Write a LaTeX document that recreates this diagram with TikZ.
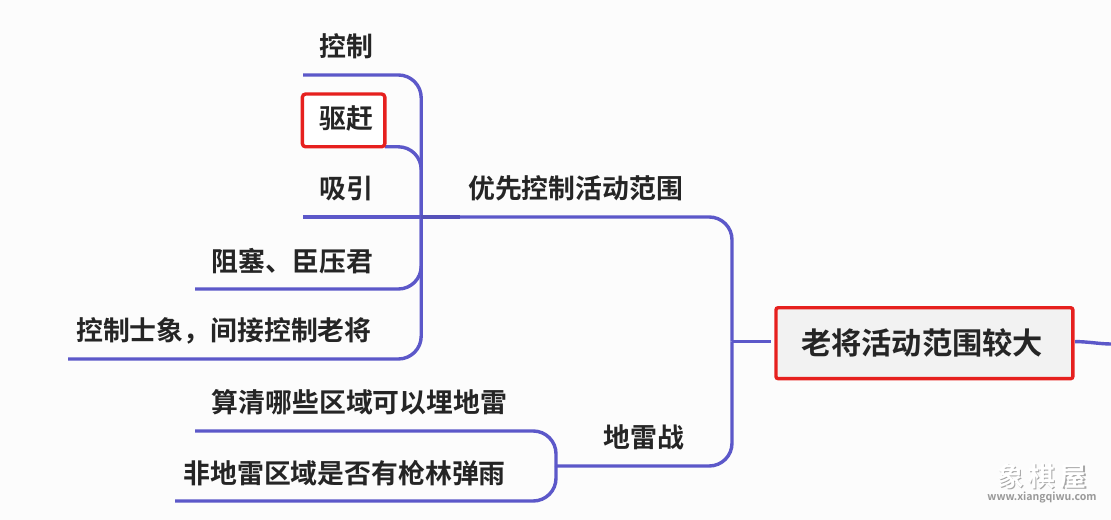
\documentclass[tikz,border=0pt]{standalone}
\usepackage{fontspec}
\setmainfont{Noto Sans CJK SC}[BoldFont={* Bold}]
\usepackage{xcolor}
\usetikzlibrary{backgrounds,positioning}
\definecolor{linkblue}{HTML}{5C58C9}
\definecolor{boxred}{HTML}{E6201E}
\definecolor{textdark}{HTML}{252525}
\begin{document}
\begin{tikzpicture}[
topic/.style={anchor=south west,inner ysep=0pt,inner xsep=0.41cm,minimum height=1.4cm,text=textdark,font=\fontsize{19.1pt}{21pt}\bfseries},
marked/.style={draw=boxred,line width=0.085cm,rounded corners=0.08cm,fill=white,outer sep=0pt},
link/.style={draw=linkblue,line width=0.085cm,rounded corners=0.57cm},
stamp/.style={inner sep=0pt,font=\fontsize{19pt}{21pt}\bfseries},
stampurl/.style={inner sep=0pt,font=\fontsize{7.5pt}{9pt}\bfseries},
]
\useasboundingbox (0,0) rectangle (27.775,-13);
\node[topic] (kongzhi) at (7.58,-1.875) {控制};
\node[topic,marked,anchor=north west,minimum height=1.32cm,inner xsep=0.42cm,text width=1.22cm,text height=0.59cm,text depth=0.2cm] (qugan) at (7.56,-2.35) {\mbox{驱赶}};
\node[topic] (xiyin) at (7.58,-5.425) {吸引};
\node[topic] (zuse) at (4.88,-7.225) {阻塞、臣压君};
\node[topic,inner xsep=0.2cm] (kongshi) at (1.7,-8.975) {控制士象，间接控制老将};
\node[topic,inner xsep=0.2cm] (youxian) at (11.5,-5.425) {优先控制活动范围};
\node[topic] (suanqing) at (4.88,-10.775) {算清哪些区域可以埋地雷};
\node[topic,inner xsep=0.2cm] (feidilei) at (4.38,-12.525) {非地雷区域是否有枪林弹雨};
\node[topic,inner xsep=0.2cm] (dileizhan) at (14.88,-11.65) {地雷战};
\node[draw=boxred,line width=0.085cm,rounded corners=0.05cm,fill=black!5,text=textdark,minimum width=7.42cm,minimum height=1.77cm,inner sep=0pt,font=\fontsize{21.5pt}{24pt}\bfseries] (laojiang) at (23.11,-8.58) {\mbox{老将活动范围较大\hspace{0.12cm}}};
\coordinate (spineup) at (10.53,-5.425);
\coordinate (spinedown) at (13.9,-11.65);
\coordinate (trunk) at (18.3,-8.54);
\coordinate (leftstub) at (19.27,-8.54);
\coordinate (rightstub) at (26.88,-8.54);
\coordinate (rightend) at (27.775,-8.6);
\begin{scope}[on background layer]
\fill[white!99!black] (0,0) rectangle (27.775,-13);
\draw[link] (kongzhi.south west) -| (spineup);
\draw[link] (qugan.south east) -| (spineup);
\draw[link] (zuse.south west) -| (spineup);
\draw[link] (kongshi.south west) -| (spineup);
\draw[link] (xiyin.south west) -- (youxian.south west);
\draw[link,draw=linkblue!92!black] (spineup) -- (youxian.south west);
\draw[link] (suanqing.south west) -| (spinedown);
\draw[link] (feidilei.south west) -| (spinedown);
\draw[link] (youxian.south west) -| (trunk);
\draw[link] (spinedown) -| (trunk);
\draw[link] (trunk) -- (leftstub);
\draw[link] (rightstub) .. controls (27.2,-8.54) and (27.5,-8.6) .. (rightend);
\end{scope}
\node[stamp,text=black!35] at (26.08,-11.93) {象\,棋\,屋};
\node[stamp,text=white] (stamp) at (26.05,-11.9) {象\,棋\,屋};
\node[stampurl,text=black!40] (stampurl) at (26.05,-12.43) {www.xiangqiwu.com};
\end{tikzpicture}
\end{document}
